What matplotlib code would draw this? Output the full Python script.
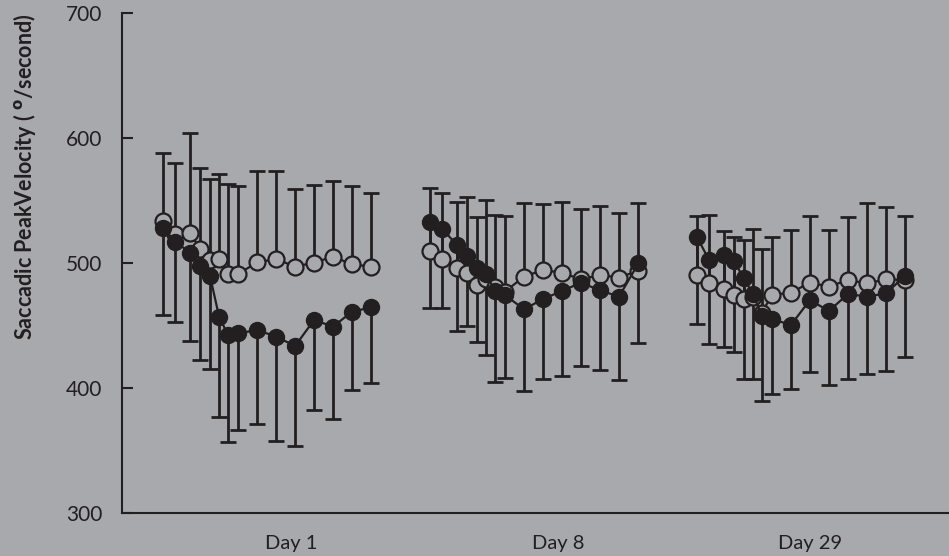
import numpy as np
from matplotlib import pyplot as plt

# time points within a session (hours, roughly) and session starts
times = np.array([0, 0.63, 1.42, 1.95, 2.47, 2.95, 3.42, 3.95, 4.95, 5.95, 6.95, 7.95, 8.95, 9.95, 10.97])
session_start = [0, 14.05, 28.1]
day_labels = ["Day 1", "Day 8", "Day 29"]
day_label_pos = [6.75, 20.8, 34.05]

# open circles (mean) with upward SD bars
open_mean = [
    [533.7, 523.5, 524.4, 511.0, 502.4, 503.3, 491.5, 491.2, 500.5, 503.2, 497.1, 500.3, 505.1, 498.9, 497.1],
    [509.6, 502.9, 496.4, 491.7, 482.8, 486.9, 481.1, 477.1, 489.1, 494.4, 492.2, 486.9, 490.4, 488.3, 493.9],
    [490.4, 483.7, 478.9, 474.2, 471.5, 473.0, 460.3, 474.4, 476.3, 484.3, 481.1, 486.4, 483.7, 486.9, 486.4],
]
open_sd = [
    [54.5, 56.2, 79.3, 65.3, 64.5, 67.6, 71.4, 70.4, 73.4, 70.7, 62.1, 61.8, 60.5, 62.7, 59.2],
    [50.7, 52.8, 52.1, 61.4, 54.3, 63.5, 57.6, 60.5, 59.2, 52.5, 56.3, 56.3, 55.2, 52.0, 53.8],
    [47.5, 54.5, 47.0, 46.3, 46.9, 54.4, 50.9, 46.1, 50.1, 53.3, 45.0, 50.4, 64.0, 57.6, 51.2],
]

# filled circles (mean) with downward SD bars
filled_mean = [
    [528.4, 517.1, 508.4, 497.3, 489.8, 457.1, 442.4, 443.7, 446.4, 441.1, 433.6, 454.4, 449.1, 461.1, 464.5],
    [533.1, 527.5, 514.4, 505.6, 496.1, 491.0, 477.9, 474.4, 462.9, 471.2, 477.6, 484.3, 478.1, 473.1, 499.7],
    [521.0, 502.6, 506.4, 501.6, 487.7, 475.2, 457.9, 455.2, 450.4, 470.4, 461.6, 475.2, 473.1, 475.7, 489.9],
]
filled_sd = [
    [70.0, 64.0, 70.5, 74.9, 74.9, 80.6, 85.9, 77.3, 75.2, 83.5, 80.0, 72.0, 73.9, 62.7, 60.8],
    [68.8, 63.2, 68.5, 55.7, 59.6, 64.6, 72.8, 66.7, 65.0, 64.3, 68.0, 66.7, 63.7, 67.0, 63.7],
    [70.1, 67.7, 73.3, 72.5, 80.8, 68.3, 68.3, 60.3, 51.5, 57.3, 59.5, 67.7, 61.6, 62.1, 65.4],
]

BG = "#a7a9ac"
INK = "#231f20"

plt.rcParams["font.family"] = ["Lato", "DejaVu Sans"]


def one_sided_bars(ax, x, mean, end):
    # bar from the mean to one end, with a cap only at the far end
    ax.vlines(x, mean, end, color=INK, lw=2, zorder=1)
    ax.plot(x, end, ls="none", marker="_", ms=12, mew=2, color=INK, zorder=1)


fig = plt.figure(figsize=(9.49, 5.56), dpi=100, facecolor=BG)
ax = fig.add_axes([122 / 949, 43 / 556, 827 / 949, 500 / 556])
ax.set_facecolor(BG)

for i, start in enumerate(session_start):
    x = times + start
    om = np.array(open_mean[i])
    fm = np.array(filled_mean[i])

    one_sided_bars(ax, x, om, om + np.array(open_sd[i]))
    one_sided_bars(ax, x, fm, fm - np.array(filled_sd[i]))
    ax.plot(x, om, "-o", color=INK, lw=1.6, markersize=11.5, markerfacecolor=BG,
            markeredgecolor=INK, markeredgewidth=1.6, zorder=2)
    ax.plot(x, fm, "-o", color=INK, lw=1.6, markersize=11.5, markerfacecolor=INK,
            markeredgecolor=INK, zorder=3)

ax.set_xlim(-2.16, 41.37)
ax.set_ylim(300, 700)
ax.spines["top"].set_visible(False)
ax.spines["right"].set_visible(False)
for side in ["left", "bottom"]:
    ax.spines[side].set_color(INK)
    ax.spines[side].set_linewidth(1.5)

ax.set_yticks([300, 400, 500, 600, 700])
ax.tick_params(axis="y", direction="in", length=8, width=1.5, color=INK,
               labelsize=15, labelcolor=INK, pad=14)
ax.set_xticks(day_label_pos)
ax.set_xticklabels(day_labels)
ax.tick_params(axis="x", length=0, labelsize=14.5, labelcolor=INK, pad=16)

fig.text(0.026, 0.975, r"Saccadic PeakVelocity ( $^{\mathbf{o}}$/second)",
         rotation=90, ha="center", va="top", fontsize=15.5, fontweight="bold",
         color=INK)

fig.savefig("out.png", dpi=100, facecolor=BG)
